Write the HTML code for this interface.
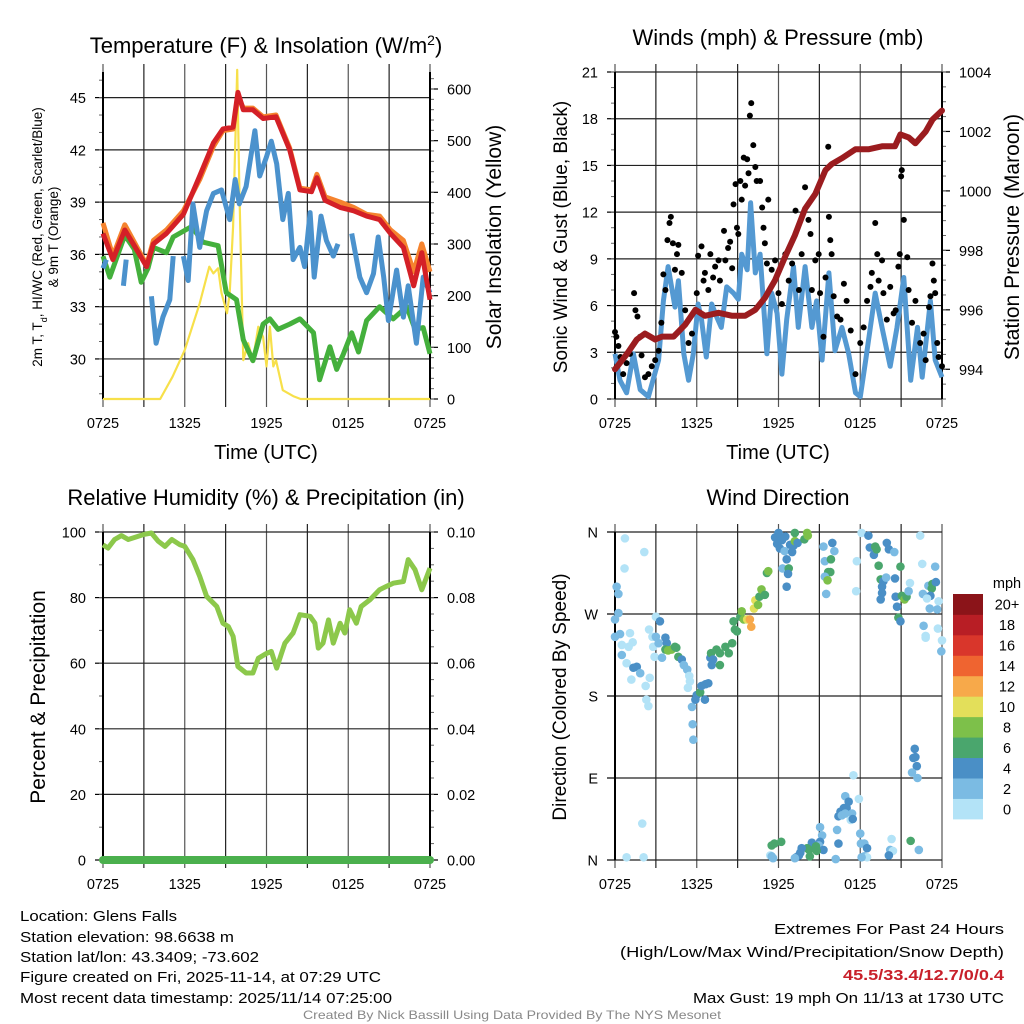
<!DOCTYPE html>
<html><head><meta charset="utf-8"><style>
body{margin:0;background:#fff}
svg{display:block;font-family:"Liberation Sans",sans-serif}
</style></head><body>
<svg id="fig" width="1024" height="1024" viewBox="0 0 1024 1024" xmlns="http://www.w3.org/2000/svg">
<rect width="1024" height="1024" fill="#fff"/>
<g id="g1"></g>
<g id="g2"></g>
<g id="g3"></g>
<g id="g4"></g>
<g font-size="14.5" fill="#000">
<text x="20" y="921" textLength="157" lengthAdjust="spacingAndGlyphs">Location: Glens Falls</text>
<text x="20" y="942" textLength="214" lengthAdjust="spacingAndGlyphs">Station elevation: 98.6638 m</text>
<text x="20" y="962" textLength="239" lengthAdjust="spacingAndGlyphs">Station lat/lon: 43.3409; -73.602</text>
<text x="20" y="982" textLength="361" lengthAdjust="spacingAndGlyphs">Figure created on Fri, 2025-11-14, at 07:29 UTC</text>
<text x="20" y="1003" textLength="372" lengthAdjust="spacingAndGlyphs">Most recent data timestamp: 2025/11/14 07:25:00</text>
<text x="774" y="934" textLength="230" lengthAdjust="spacingAndGlyphs">Extremes For Past 24 Hours</text>
<text x="620" y="957" textLength="384" lengthAdjust="spacingAndGlyphs">(High/Low/Max Wind/Precipitation/Snow Depth)</text>
<text x="843" y="980" textLength="161" lengthAdjust="spacingAndGlyphs" fill="#c8202a" font-weight="bold">45.5/33.4/12.7/0/0.4</text>
<text x="693" y="1003" textLength="311" lengthAdjust="spacingAndGlyphs">Max Gust: 19 mph On 11/13 at 1730 UTC</text>
<text x="303" y="1019" textLength="418" lengthAdjust="spacingAndGlyphs" font-size="12" fill="#888">Created By Nick Bassill Using Data Provided By The NYS Mesonet</text>
</g>
</svg>
<script>
// ---------- data ----------
const xTickLabels=["0725","1325","1925","0125","0725"];
const tHours=[0,0.73,1.6,2.3,3.2,3.7,4.65,5.9,7.1,8.1,8.8,9.55,9.9,10.3,11,11.75,12.7,13.7,14.45,15.3,15.7,16.3,17.4,18.4,19.35,20.3,21.1,22.05,22.8,23.4,24];
const tempRed=[37.2,35.7,37.4,36.5,35.3,36.6,37.2,38.3,40.5,42.4,43.2,43.3,45.3,44.3,44.3,43.8,43.9,42,39.7,39.6,40.4,39.1,38.7,38.5,38.2,38,37.2,36.4,34.2,36.1,33.4];
const tempOrange=[37.8,35.9,37.7,36.7,35.4,36.8,37.4,38.5,40.3,42.2,43.1,43.2,45.1,44.4,44.4,43.9,44.0,42.1,39.8,39.7,40.6,39.3,39.0,38.7,38.3,38.2,37.4,36.8,35.0,36.6,35.0];
const tdHours=[0,0.5,1.6,2.3,2.8,3.3,3.7,4.65,5.15,6.5,7.35,8.45,9.05,9.8,10.3,11,11.75,12.25,12.85,13.7,14.45,15.45,15.9,16.65,17.15,17.65,18.25,18.75,19.35,20.3,21.3,22.3,22.9,23.5,24];
const tempGreen=[35.9,34.7,37.1,36.3,34.4,35.2,36.4,36.1,37,37.6,36.7,36.5,33.8,33.4,31.1,29.9,32,32.3,31.7,32,32.3,31.5,28.8,30.7,29.4,30.3,31.5,30.4,32.2,33,32.3,33,31.7,31.8,30.3];
const wcHours=[0,0.25,null,1.5,1.7,null,3.55,3.9,4.4,4.9,5.15,null,5.9,6.25,6.6,7.1,7.6,8.1,8.7,9.3,9.7,10,10.5,11.15,11.5,12,12.35,12.75,13.2,13.6,13.95,14.45,14.8,15.2,15.5,16,16.4,16.9,17.25,null,18.25,18.85,19.35,19.85,20.2,20.6,20.95,21.55,22.05,22.4,23.0,23.5,24];
const tempBlue=[35.2,35.7,null,34.2,35.7,null,33.6,30.9,32.4,33.4,35.9,null,35.9,34.5,38.9,36.4,38.5,39.5,39.7,38,40.3,38.9,39.9,43.1,40.5,41.6,42.5,41.2,38,39.5,35.7,36.4,35.3,38.4,34.7,38.2,36.8,35.9,36.6,null,37.2,34.7,33.8,34.9,37,34.7,32.2,35.1,32.4,34.2,30.9,34.7,33.8];
const solarHours=[0,4.2,5.1,6,7.1,7.8,8.1,8.45,8.7,9.1,9.3,9.55,9.85,10,10.3,10.65,11,11.4,11.75,12,12.25,12.5,12.7,13.2,14,14.5,24];
const solar=[0,0,43,95,185,256,243,253,205,166,205,334,637,411,75,108,75,140,120,63,140,63,75,17,5,0,0];

const presHours=[0,0.85,1.6,2.2,2.95,3.45,4.3,5.15,5.9,6.6,7.6,8.6,9.55,10.3,11,11.75,12.5,13.2,13.95,14.7,15.45,15.9,16.65,17.65,18.6,19.6,20.55,20.95,21.55,22.05,22.8,23.3,24];
const pressure=[994.0,994.5,995.0,995.2,995.0,995.1,995.1,995.5,996.0,995.8,995.9,995.8,995.8,996.0,996.4,997.0,997.8,998.5,999.4,999.9,1000.7,1000.9,1001.1,1001.4,1001.4,1001.5,1001.5,1001.9,1001.8,1001.6,1002.0,1002.4,1002.7];
const windHours=[0,0.37,0.85,1.35,1.85,2.45,3.2,3.55,3.9,4.4,4.65,5.05,5.4,5.75,6.1,6.35,6.7,7.1,7.45,7.8,8.2,8.7,9.05,9.3,9.7,9.95,10.3,10.65,11.15,11.5,11.9,12.25,12.6,13.1,13.45,13.95,14.45,14.8,15.2,15.7,16.15,16.65,17.15,17.65,18,18.4,19.1,19.6,20.2,20.7,21.2,21.7,22.2,22.55,23.15,23.5,24];
const windSpeed=[2.9,1.2,0.4,2.9,0.6,0.15,2.5,6.3,8.5,5.9,7.6,2.9,1.2,2.9,6.1,5.1,2.7,6.1,5.3,4.6,7.2,6.8,6.4,9.3,8.3,12.6,8.1,9.3,2.9,6.8,5.5,1.6,5.1,8.5,4.6,8.5,4.6,6.3,2.5,8.1,3.1,4.6,2.9,0.4,0.15,2.5,6.8,4.6,2.1,4.6,7.8,1.2,4.6,1.4,6.3,2.5,1.4];
const gustHours=[0,0.1,0.25,0.4,0.6,0.85,1.1,1.4,1.5,1.65,1.85,1.95,2.2,2.45,2.7,2.95,3.2,3.4,3.55,3.7,3.85,4,4.1,4.25,4.4,4.55,4.65,4.9,5.15,5.4,5.65,6,6.1,6.35,6.5,6.6,6.85,7,7.2,7.35,7.6,7.7,8,8.1,8.3,8.45,8.6,8.7,8.85,8.95,9.05,9.2,9.3,9.45,9.55,9.7,9.8,9.9,10,10.15,10.3,10.4,10.65,10.8,10.9,11,11.15,11.25,11.5,11.75,12,12.25,12.5,12.75,13,13.25,13.5,13.7,13.95,14.2,14.35,14.45,14.7,14.95,15.05,15.3,15.45,15.65,15.7,15.8,15.9,16.05,16.3,16.55,16.8,17,17.3,17.65,18,18.25,18.5,18.75,18.85,19.1,19.25,19.35,19.6,19.7,19.95,20.2,20.45,20.6,20.8,20.9,21,21.05,21.2,21.45,21.55,21.8,22.05,22.4,22.65,22.8,23.05,23.15,23.3,23.4,23.5,23.65,23.75,24];
const gustSpeed=[4.3,4,3.4,2.7,1.6,2.3,2.9,6.8,5.7,5.3,4,2.8,1.4,1.6,2.1,2.5,3.1,4.9,8,7,10.2,11.3,11.7,10,8.3,9.3,9.9,8.1,5.7,3.6,4.2,6.8,9.2,9.8,7.6,8.1,7,9.3,7.8,8.5,8.9,7.6,10.8,8.9,9.7,10.1,8.4,12.5,13.8,11,10.6,14,12.8,15.5,13.7,15.4,14.5,18.2,19,16.3,14.9,14,14,12.3,11,10,8.7,12.8,8.3,8.9,6.8,6.1,9.3,7.6,8.7,12.1,7,9.3,13.6,11.5,10.6,7,8.9,9.3,6.8,4,7.8,16.2,11.7,10.2,9.3,6.6,5.3,5.1,7.4,6.3,4.4,1.6,3.6,4.6,6.3,7.2,8.1,11.3,9.3,7.6,8.9,6.8,5.1,7.2,5.5,5.7,8.5,9.3,14.3,14.7,11.5,9.1,7,4.9,6.3,3.6,4.2,2.5,5.9,6.6,8.7,7.6,6.8,3.6,2.7,2.1];

const rhHours=[0,0.37,0.85,1.35,1.85,2.45,2.95,3.55,4.05,4.55,5.05,5.65,6,6.6,7.1,7.6,8.35,8.8,9.2,9.55,9.9,10.5,11,11.4,12,12.35,12.75,13.1,13.35,13.95,14.45,15.2,15.55,15.8,16.15,16.55,16.9,17.4,17.75,18.1,18.6,18.95,19.6,20.3,20.8,21.3,22.05,22.4,22.9,23.4,24];
const rh=[96.1,95.1,97.7,98.9,97.7,98.5,99.2,99.7,97.2,95.6,97.7,96.1,95.6,91.6,86.5,80.4,77.3,72.2,71.2,68.2,59,57,57,61.5,63,63.6,58.5,63,66.1,69.2,74.8,74.3,72.2,64.6,66.1,73.2,66.1,72.2,69.2,76.3,72.2,77.3,79.4,82.4,83.4,84.4,84.9,91.6,88.5,82.4,89];
const precipHours=[0,24];
const precip=[0,0];

const dirHours=[0.73,2.15,0.7,0.12,0.25,0.25,0,0,0.37,0.5,0.5,0.85,1.1,1,1.3,1.35,1.6,1.85,1.2,2.25,2.3,2.45,2.55,2.5,2.75,2.8,3,3.3,3,3.2,2.9,2,0.85,2.1,3.7,3.8,3.7,3.9,4.15,4.4,4.5,4.65,4.9,3.45,5.05,5.3,5.45,5.5,5.35,5.65,5.9,6,6.25,6.35,6.65,6.85,6.6,5.7,5.75,7,7.05,7.2,7.1,7.45,7.7,7.7,8.1,8.35,8.6,8.7,8.8,8.95,9.2,9.3,9.45,9.7,9.9,10,10.2,10.3,10.5,10.6,10.75,11,11.15,11.25,11.75,12,11.9,12.1,12.25,12.5,12.45,12.6,13,13.1,12.85,13.2,13.2,13.4,12.3,12.75,12.7,12.6,13.9,14.1,14.15,15.3,15.95,15.4,16.1,15.85,15.65,15.8,15.4,15.6,15.5,17.75,17.7,18.1,18.6,18.7,19,19.1,19.2,19.35,19.5,19.6,19.7,19.6,19.5,19.95,20.1,20.5,19.9,20.55,20.6,20.7,20.8,20.95,20.95,21.05,21.25,21.4,21.55,21.65,22.4,22.55,23.5,23,23.3,23.25,23.55,22.6,23.15,22.9,23.75,23.1,23.65,22.65,23.7,22.8,22.8,24,23.95,22,21.9,22.05,22.15,21.8,22.2,17.5,17.9,16.9,17.15,16.8,16.55,17,16.4,16.65,16.9,17.4,17.3,17.45,15.05,15.2,16.3,16.4,15.05,14.95,15.3,14.45,14.1,14.25,14.75,14.8,14.3,13.7,13.6,13.5,13.3,13.2,16.2,18,18.05,18.3,18.5,18.3,18.5,20.3,20.2,20.4,20.1,21.7,22.3,11.5,11.7,12.2,11.4,11.5,11.6,18.1];
const dirDeg=[353,338,320,300,292,271,264,245,248,236,225,216,249,234,239,211,212,205,198,191,176,169,200,253,245,234,267,262,245,238,223,40,3,3,244,238,231,230,231,234,233,223,220,222,214,209,202,196,189,168,176,181,184,191,193,194,176,149,132,222,227,220,214,231,227,214,234,227,238,262,253,251,267,273,264,264,264,256,276,285,280,289,297,291,315,317,354,359,347,342,351,355,339,330,338,345,346,359,350,348,320,320,314,300,352,359,356,344,348,328,339,330,316,316,311,307,292,328,295,359,356,343,335,344,341,323,308,300,306,293,286,348,341,338,310,309,289,278,266,262,322,290,286,289,295,304,356,325,322,301,303,298,305,292,290,287,284,276,275,257,254,244,246,241,229,122,112,113,103,96,90,93,67,70,64,57,53,57,48,49,51,51,44,45,36,27,33,18,20,16,11,19,13,11,15,10,4,13,8,5,3,2,1,29,18,18,13,4,3,23,11,10,5,21,11,16,18,20,5,4,2,3];
const dirSpeed=[1,1,1,3,3,3,3,3,3,1,3,1,1,1,1,5,5,3,1,1,1,1,1,1,1,1,1,5,3,3,1,1,1,1,5,5,7,9,9,7,7,7,5,3,3,3,1,1,1,3,5,5,7,5,5,5,5,3,3,5,7,5,5,7,7,7,7,7,7,7,7,7,7,9,9,11,13,13,11,11,9,7,9,7,7,9,5,5,5,5,5,5,3,5,5,5,5,7,9,5,3,7,5,5,7,9,9,3,5,3,3,7,7,7,3,9,3,1,1,1,5,5,5,7,7,7,7,5,5,5,5,5,5,3,3,5,5,5,7,5,7,7,9,7,3,1,1,1,3,3,7,7,5,3,5,1,1,3,3,3,1,1,1,1,3,5,5,5,5,3,3,1,1,3,5,5,5,5,5,3,3,3,1,5,3,3,3,5,5,3,5,5,7,7,7,7,7,5,5,5,5,3,3,3,3,3,5,3,1,1,3,1,5,7,3,7,7,7,1,3,3,3,3,3,3,3,3,3,3,3,3,3,3,1];
const legendLabels=["0","2","4","6","8","10","12","14","16","18","20+"];
const legendColors=["#b3e3f7","#7bbbe3","#4a8fc6","#4aa66d","#7dc04a","#e3df5a","#f7a94a","#ef6430","#d9362b","#b81e25","#8b1419"];

// ---------- helpers ----------
const NS="http://www.w3.org/2000/svg";
function mk(parent,tag,attrs,text){const e=document.createElementNS(NS,tag);for(const k in attrs)e.setAttribute(k,attrs[k]);if(text!==undefined)e.textContent=text;parent.appendChild(e);return e;}
function scale(d0,d1,r0,r1){return v=>r0+(v-d0)/(d1-d0)*(r1-r0);}
function colorFor(s){if(s===undefined||isNaN(s))s=3;let i=Math.floor(s/2);if(i>10)i=10;if(i<0)i=0;return legendColors[i];}

function frame(g,x0,top,bottom,title,titleX,titleY,titleSize){
  const x1=x0+327;const sx=scale(0,24,x0,x1);
  for(let h=0;h<=24;h+=3){
    const x=sx(h);
    const ln=mk(g,'line',{x1:x,x2:x,y1:top-8,y2:bottom+8,stroke:(h%6==3)?'#222':'#555','stroke-width':1.2});
    
    
  }
  xTickLabels.forEach((lab,i)=>{
    const t=mk(g,'text',{x:sx(i*6),y:bottom+29,'text-anchor':'middle','font-size':14.5},lab);
    
    
  });
  const tt=mk(g,'text',{x:titleX,y:titleY,'text-anchor':'middle','font-size':titleSize},title);
  
  
  return sx;
}
function yAxis(g,side,x0,top,bottom,sy,majors,labels,minors,labelSize){
  const x=side==='left'?x0:x0+327;
  majors.forEach((v,i)=>{
    const y=sy(v);
    if(side==='left'){
      const gl=mk(g,'line',{x1:x0,x2:x0+327,y1:y,y2:y,stroke:'#222','stroke-width':1.2});
      
      
    }
    mk(g,'line',{x1:side==='left'?x-8:x,x2:side==='left'?x:x+8,y1:y,y2:y,stroke:'#000','stroke-width':1.2});
    const t=mk(g,'text',{x:side==='left'?x-17:x+17,y:y+5.5,'text-anchor':side==='left'?'end':'start','font-size':labelSize||14.5},labels[i]);
    
    
  });
  minors.forEach(v=>{const y=sy(v);if(y<top-0.5||y>bottom+0.5)return;
    mk(g,'line',{x1:side==='left'?x-4:x,x2:side==='left'?x:x+4,y1:y,y2:y,stroke:'#666','stroke-width':1});});
  const ax=mk(g,'line',{x1:x,x2:x,y1:top,y2:bottom,stroke:'#000','stroke-width':2});
  
  
}
function linePath(xs,ys,sx,sy){let d='',pen=false;for(let i=0;i<xs.length;i++){if(xs[i]===null||ys[i]===null){pen=false;continue;}d+=(pen?'L':'M')+sx(xs[i]).toFixed(1)+','+sy(ys[i]).toFixed(1);pen=true;}return d;}
function rotLabel(g,x,y,size,text,name){const t=mk(g,'text',{x:x,y:y,'text-anchor':'middle','font-size':size,transform:`rotate(-90 ${x} ${y})`},text);return t;}
function range(a,b,s){const r=[];for(let v=a;v<=b+1e-9;v+=s)r.push(+v.toFixed(4));return r;}

// ---------- Panel 1 ----------
(function(){
  const g=document.getElementById('g1');const X0=103,T=72,B=399;
  const sx=frame(g,X0,T,B,'',266,53,22);
  g.lastChild.remove();
  const tt=mk(g,'text',{x:266,y:53,'text-anchor':'middle','font-size':22},'Temperature (F) & Insolation (W/m');
  mk(tt,'tspan',{'baseline-shift':'super','font-size':14},'2');
  mk(tt,'tspan',{},')');
  
  
  const sy=scale(27.7,46.47,B,T);const sy2=scale(0,632.9,B,T);
  yAxis(g,'left',X0,T,B,sy,[30,33,36,39,42,45],["30","33","36","39","42","45"],range(28,46,1));
  yAxis(g,'right',X0,T,B,sy2,[0,100,200,300,400,500,600],["0","100","200","300","400","500","600"],range(0,620,20));
  const s1=mk(g,'path',{d:linePath(solarHours,solar,sx,sy2),fill:'none',stroke:'#f7e04a','stroke-width':2.2,'stroke-linejoin':'round'});
  
  const s2=mk(g,'path',{d:linePath(tdHours,tempGreen,sx,sy),fill:'none',stroke:'#44b03c','stroke-width':5,'stroke-linejoin':'round'});
  
  const s3=mk(g,'path',{d:linePath(wcHours,tempBlue,sx,sy),fill:'none',stroke:'#4b92cd','stroke-width':5,'stroke-linejoin':'round'});
  
  const s4=mk(g,'path',{d:linePath(tHours,tempOrange,sx,sy),fill:'none',stroke:'#f5832e','stroke-width':5,'stroke-linejoin':'round'});
  
  const s5=mk(g,'path',{d:linePath(tHours,tempRed,sx,sy),fill:'none',stroke:'#d42027','stroke-width':5,'stroke-linejoin':'round'});
  
  const l1=rotLabel(g,42,237,13.5,'','left-axis-title');
  l1.appendChild(document.createTextNode('2m T, T'));
  mk(l1,'tspan',{'baseline-shift':'sub','font-size':9},'d');
  l1.appendChild(document.createTextNode(', HI/WC (Red, Green, Scarlet/Blue)'));
  rotLabel(g,58,237,13.5,'& 9m T (Orange)','left-axis-title-line2');
  rotLabel(g,501,237,21,'Solar Insolation (Yellow)','right-axis-title');
  const xl=mk(g,'text',{x:266,y:459,'text-anchor':'middle','font-size':20},'Time (UTC)');
  
})();

// ---------- Panel 2 ----------
(function(){
  const g=document.getElementById('g2');const X0=615,T=72,B=399;
  const sx=frame(g,X0,T,B,'Winds (mph) & Pressure (mb)',778,45,22);
  const sy=scale(0,21,B,T);const sy2=scale(993.0,1004,B,T);
  yAxis(g,'left',X0,T,B,sy,[0,3,6,9,12,15,18,21],["0","3","6","9","12","15","18","21"],range(0,21,1));
  yAxis(g,'right',X0,T,B,sy2,[994,996,998,1000,1002,1004],["994","996","998","1000","1002","1004"],range(993,1004,0.5));
  const w=mk(g,'path',{d:linePath(windHours,windSpeed,sx,sy),fill:'none',stroke:'#5499d2','stroke-width':5,'stroke-linejoin':'round'});
  
  gustHours.forEach((h,i)=>{
    const c=mk(g,'circle',{cx:sx(h),cy:sy(gustSpeed[i]),r:3,fill:'#000'});
    
    
  });
  const p=mk(g,'path',{d:linePath(presHours,pressure,sx,sy2),fill:'none',stroke:'#9b1c1f','stroke-width':6,'stroke-linejoin':'round','stroke-linecap':'round'});
  
  rotLabel(g,567,237,19,'Sonic Wind & Gust (Blue, Black)','left-axis-title');
  rotLabel(g,1019,237,21,'Station Pressure (Maroon)','right-axis-title');
  const xl=mk(g,'text',{x:778,y:459,'text-anchor':'middle','font-size':20},'Time (UTC)');
  
})();

// ---------- Panel 3 ----------
(function(){
  const g=document.getElementById('g3');const X0=103,T=532,B=860;
  const sx=frame(g,X0,T,B,'Relative Humidity (%) & Precipitation (in)',266,505,22);
  const sy=scale(0,100,B,T);const sy2=scale(0,0.1,B,T);
  yAxis(g,'left',X0,T,B,sy,[0,20,40,60,80,100],["0","20","40","60","80","100"],range(0,100,10));
  yAxis(g,'right',X0,T,B,sy2,[0,0.02,0.04,0.06,0.08,0.1],["0.00","0.02","0.04","0.06","0.08","0.10"],range(0,0.1,0.005));
  const r=mk(g,'path',{d:linePath(rhHours,rh,sx,sy),fill:'none',stroke:'#8cc84b','stroke-width':5,'stroke-linejoin':'round'});
  
  const pr=mk(g,'path',{d:linePath(precipHours,precip,sx,sy2),fill:'none',stroke:'#4bb04d','stroke-width':8,'stroke-linecap':'round'});
  
  rotLabel(g,45,697,21,'Percent & Precipitation','left-axis-title');
})();

// ---------- Panel 4 ----------
(function(){
  const g=document.getElementById('g4');const X0=615,T=532,B=860;
  const sx=frame(g,X0,T,B,'Wind Direction',778,505,22);
  const sy=scale(0,360,B,T);
  yAxis(g,'left',X0,T,B,sy,[0,90,180,270,360],["N","E","S","W","N"],[]);
  dirHours.forEach((h,i)=>{
    const c=mk(g,'circle',{cx:sx(h),cy:sy(dirDeg[i]),r:4.3,fill:colorFor(dirSpeed[i])});
    
    
  });
  rotLabel(g,566,697,19,'Direction (Colored By Speed)','left-axis-title');
  const lg=mk(g,'g',{});
  
  
  const LT=594,LH=225/11;
  mk(lg,'text',{x:1007,y:588,'text-anchor':'middle','font-size':14.5},'mph');
  legendLabels.forEach((lab,i)=>{
    const y=LT+(10-i)*LH;
    const rc=mk(lg,'rect',{x:953,y:y,width:30,height:LH+0.4,fill:legendColors[i]});
    
    
    const t=mk(lg,'text',{x:1007,y:y+LH/2+5.5,'text-anchor':'middle','font-size':14.5},lab);
    
    
  });
})();
</script>
</body></html>
